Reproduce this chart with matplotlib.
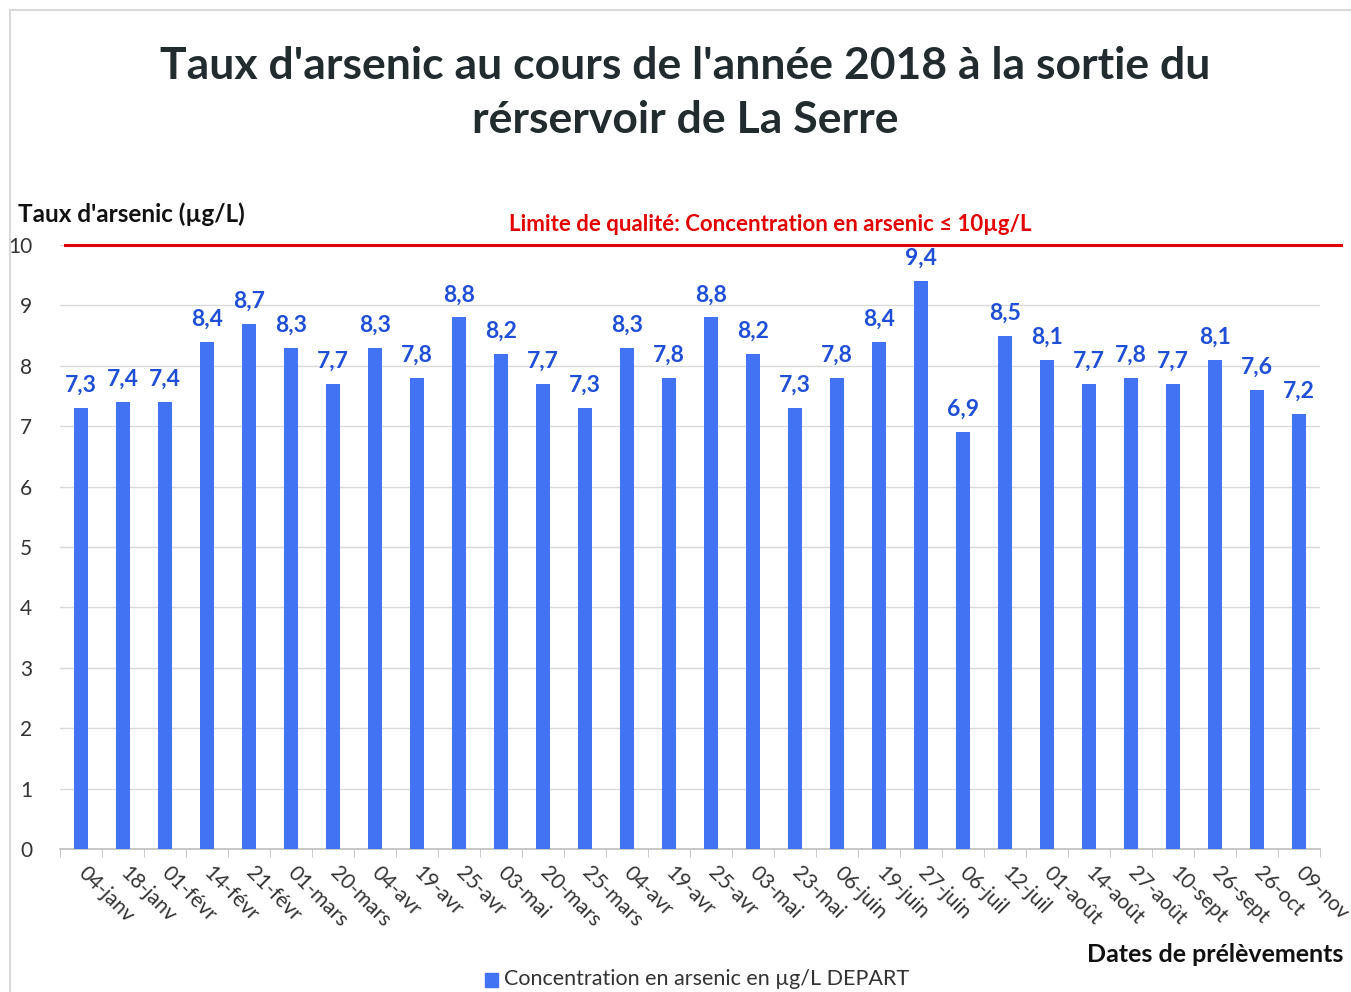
import numpy as np
import matplotlib.pyplot as plt
from matplotlib.patches import Rectangle

plt.rcParams['font.family'] = ['Lato', 'DejaVu Sans']

dates = ['04-janv', '18-janv', '01-févr', '14-févr', '21-févr', '01-mars', '20-mars',
         '04-avr', '19-avr', '25-avr', '03-mai', '20-mars', '25-mars', '04-avr', '19-avr',
         '25-avr', '03-mai', '23-mai', '06-juin', '19-juin', '27-juin', '06-juil',
         '12-juil', '01-août', '14-août', '27-août', '10-sept', '26-sept', '26-oct', '09-nov']
arsenic = [7.3, 7.4, 7.4, 8.4, 8.7, 8.3, 7.7, 8.3, 7.8, 8.8, 8.2, 7.7, 7.3, 8.3, 7.8,
           8.8, 8.2, 7.3, 7.8, 8.4, 9.4, 6.9, 8.5, 8.1, 7.7, 7.8, 7.7, 8.1, 7.6, 7.2]
limite = 10

bar_col = '#4273F2'
lab_col = '#1F4FD6'

fig = plt.figure(figsize=[13.51, 9.92], dpi=100)
ax = fig.add_axes([0.0444, 0.1442, 0.9326, 0.6088])

x = np.arange(len(dates))
ax.bar(x, arsenic, width=0.33, color=bar_col, zorder=3)
for xi, v in zip(x, arsenic):
    ax.text(xi, v + 0.2, f'{v:.1f}'.replace('.', ','), ha='center', va='bottom',
            fontsize=16.5, fontweight='bold', color=lab_col)

ax.set_xlim(-0.5, len(dates) - 0.5)
ax.set_ylim(0, 10)
ax.set_yticks(range(0, 11))
ax.yaxis.grid(True, color='#D9D9D9', lw=1)
ax.set_axisbelow(True)
for s in ['top', 'right', 'left']:
    ax.spines[s].set_visible(False)
ax.spines['bottom'].set_color('#BFBFBF')
ax.spines['bottom'].set_linewidth(1.2)

ax.set_xticks(x)
ax.set_xticklabels(dates, rotation=-45, ha='left', va='center', rotation_mode='anchor',
                   fontsize=15, color='#333333')
ax.tick_params(axis='x', which='major', length=0, pad=15)
ax.set_xticks(np.arange(-0.5, len(dates)), minor=True)
ax.tick_params(axis='x', which='minor', length=6, color='#BFBFBF')
ax.tick_params(axis='y', length=0, labelsize=15, labelcolor='#333333', pad=20)

ax.axhline(limite, xmin=0.004, xmax=1.017, color='#E30000', lw=2.2, clip_on=False, zorder=4)
ax.text(0.564, 10.17, 'Limite de qualité: Concentration en arsenic ≤ 10µg/L',
        transform=ax.get_yaxis_transform(), ha='center', va='bottom',
        fontsize=16, fontweight='bold', color='#E30000')

fig.text(0.507, 0.906, "Taux d'arsenic au cours de l'année 2018 à la sortie du\nrérservoir de La Serre",
         ha='center', va='center', fontsize=32, fontweight='bold', color='#222B2E',
         linespacing=1.42)
fig.text(0.013, 0.784, "Taux d'arsenic (µg/L)", ha='left', va='center',
         fontsize=17.5, fontweight='bold', color='#111111')
fig.text(0.994, 0.038, 'Dates de prélèvements', ha='right', va='center',
         fontsize=18, fontweight='bold', color='#111111')

fig.patches.append(Rectangle((0.359, 0.0055), 0.0095, 0.0135, transform=fig.transFigure,
                             color=bar_col))
fig.text(0.373, 0.013, 'Concentration en arsenic en µg/L DEPART', ha='left', va='center',
         fontsize=15.5, color='#333333')

fig.patches.append(Rectangle((0.0074, -0.01), 1.1, 1.0, transform=fig.transFigure,
                             fill=False, edgecolor='#D9D9D9', lw=1.5))

fig.savefig('out.png', dpi=100)
